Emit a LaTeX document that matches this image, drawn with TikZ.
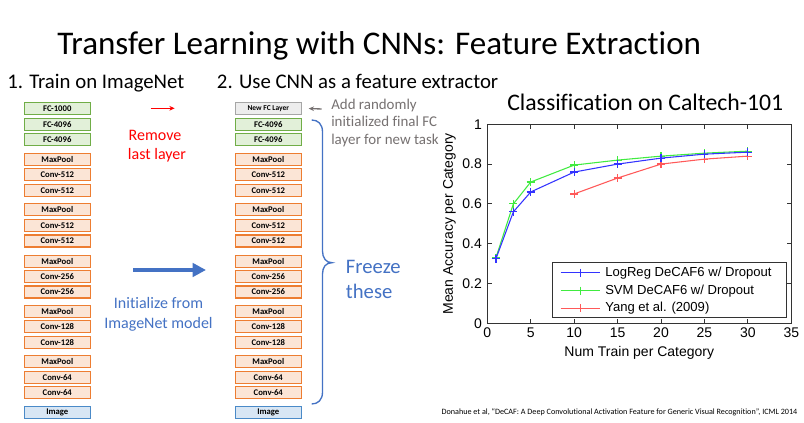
\documentclass[tikz,border=0pt]{standalone}
\usepackage{fontspec}
\setmainfont{Carlito}[Ligatures=NoCommon]
\newfontfamily\plotfont{Liberation Sans}
\usetikzlibrary{arrows.meta}
\definecolor{fcfill}{HTML}{E2F0D9}
\definecolor{fcdraw}{HTML}{70AD47}
\definecolor{convfill}{HTML}{FBE5D6}
\definecolor{convdraw}{HTML}{ED7D31}
\definecolor{imgfill}{HTML}{D8E6F4}
\definecolor{imgdraw}{HTML}{4A8AC8}
\definecolor{newfill}{HTML}{EDEDED}
\definecolor{newdraw}{HTML}{A6A6A6}
\definecolor{txtgray}{HTML}{767171}
\definecolor{ppblue}{HTML}{4472C4}
\definecolor{pred}{HTML}{FF0000}
\definecolor{cblue}{rgb}{0.2,0.2,1}
\definecolor{cgreen}{rgb}{0.25,0.92,0.25}
\definecolor{cred}{rgb}{1,0.35,0.35}
\tikzset{
  layer/.style={minimum width=66*0.75pt, minimum height=12*0.75pt, inner sep=0pt, line width=1.1pt,
    font=\bfseries\fontsize{6.5}{7}\selectfont},
  fcbox/.style={layer, draw=fcdraw, fill=fcfill},
  convbox/.style={layer, draw=convdraw, fill=convfill},
  imgbox/.style={layer, draw=imgdraw, fill=imgfill},
  newfcbox/.style={layer, draw=newdraw, fill=newfill, font=\bfseries\fontsize{5.6}{6}\selectfont},
  head/.style={font=\fontsize{15.6}{18}\selectfont, inner sep=0pt},
  ptick/.style={font=\plotfont\fontsize{10.5}{12}\selectfont, inner sep=0pt},
  plegend/.style={font=\plotfont\fontsize{9.8}{11}\selectfont, inner sep=0pt},
  pline/.style={line width=0.8pt},
  pmark/.style={mark=+, mark size=3pt, mark options={line width=0.9pt}},
}
\begin{document}
\begin{tikzpicture}[x=0.75pt,y=-0.75pt]
\useasboundingbox (0,0) rectangle (804,423);
\fill[white] (0,0) rectangle (804,423);

% title
\node[anchor=base, inner sep=0pt, font=\fontsize{24.8}{28}\selectfont] (title) at (379.2,55) {Transfer Learning with CNNs: Feature Extraction};

% headings
\node[head, anchor=base west] (h1) at (7,88.3) {1. Train on ImageNet};
\node[head, anchor=base west] (h2) at (216.7,88.3) {2. Use CNN as a feature extractor};

% left column
\foreach \y/\t/\s [count=\i] in {108.3/FC-1000/fcbox, 124.3/FC-4096/fcbox, 139.7/FC-4096/fcbox,
  159.3/MaxPool/convbox, 174.7/Conv-512/convbox, 190.3/Conv-512/convbox,
  209.7/MaxPool/convbox, 225.7/Conv-512/convbox, 241/Conv-512/convbox,
  261.3/MaxPool/convbox, 276.7/Conv-256/convbox, 292/Conv-256/convbox,
  311.3/MaxPool/convbox, 326.3/Conv-128/convbox, 342.3/Conv-128/convbox,
  361.7/MaxPool/convbox, 377.3/Conv-64/convbox, 392.7/Conv-64/convbox,
  412.7/Image/imgbox}
  {\node[\s] (L\i) at (57.3,\y) {\t};}

% right column
\foreach \y/\t/\s [count=\i] in {108.3/New FC Layer/newfcbox, 124.3/FC-4096/fcbox, 139.7/FC-4096/fcbox,
  159.3/MaxPool/convbox, 174.7/Conv-512/convbox, 190.3/Conv-512/convbox,
  209.7/MaxPool/convbox, 225.7/Conv-512/convbox, 241/Conv-512/convbox,
  261.3/MaxPool/convbox, 276.7/Conv-256/convbox, 292/Conv-256/convbox,
  311.3/MaxPool/convbox, 326.3/Conv-128/convbox, 342.3/Conv-128/convbox,
  361.7/MaxPool/convbox, 377.3/Conv-64/convbox, 392.7/Conv-64/convbox,
  412.7/Image/imgbox}
  {\node[\s] (R\i) at (268.3,\y) {\t};}

% red arrow and text
\coordinate (ra1) at (150.7,108.3);
\coordinate (ra2) at (174.7,108.3);
\draw[pred, line width=0.9pt, -{Stealth[length=4pt,width=3.5pt]}] (ra1) -- (ra2);
\node[anchor=base, inner sep=0pt, text=pred, font=\fontsize{12}{14}\selectfont] (rem1) at (155,140.7) {Remove};
\node[anchor=base, inner sep=0pt, text=pred, font=\fontsize{12}{14}\selectfont] (rem2) at (157,160) {last layer};

% blue arrow and text
\coordinate (ba1) at (133,270);
\coordinate (ba2) at (206,270);
\draw[ppblue, line width=3.2pt, -{Triangle[length=10pt,width=10pt]}] (ba1) -- (ba2);
\node[anchor=base, inner sep=0pt, text=ppblue, font=\fontsize{12}{14}\selectfont] (ini1) at (158.5,309) {Initialize from};
\node[anchor=base, inner sep=0pt, text=ppblue, font=\fontsize{12}{14}\selectfont] (ini2) at (158.5,329) {ImageNet model};

% gray arrow and text
\coordinate (ga1) at (321.7,109);
\draw[txtgray, line width=1pt, -{Stealth[length=4pt,width=3.5pt]}] (ga1) -- (R1.east) [shorten >=5pt];
\node[anchor=base west, inner sep=0pt, text=txtgray, font=\fontsize{11.2}{13}\selectfont] (add1) at (331,109.3) {Add randomly};
\node[anchor=base west, inner sep=0pt, text=txtgray, font=\fontsize{11.2}{13}\selectfont] (add2) at (331,126.7) {initialized final FC};
\node[anchor=base west, inner sep=0pt, text=txtgray, font=\fontsize{11.2}{13}\selectfont] (add3) at (331,144.3) {layer for new task};

% brace
\draw[ppblue, line width=1pt] (311.7,120) .. controls (318,120) and (322.5,124) .. (322.5,132) -- (322.5,251)
  .. controls (322.5,258) and (326,262.7) .. (332,262.7)
  .. controls (326,262.7) and (322.5,267) .. (322.5,274) -- (322.5,392)
  .. controls (322.5,400) and (318,404) .. (311.7,404);
\node[anchor=base west, inner sep=0pt, text=ppblue, font=\fontsize{15.5}{18}\selectfont] (fr1) at (345.7,273.3) {Freeze};
\node[anchor=base west, inner sep=0pt, text=ppblue, font=\fontsize{15.5}{18}\selectfont] (fr2) at (345.7,298.3) {these};

% chart title
\node[anchor=base west, inner sep=0pt, font=\fontsize{17.8}{20}\selectfont] (ctitle) at (507,110.7) {Classification on Caltech-101};

% plot
\begin{scope}[shift={(487.3,323.3)}, x=6.5145pt, y=149.25pt]
  \draw[line width=0.7pt, black!80] (0,0) rectangle (35,1);
  \foreach \v in {0,5,...,35} {
    \draw[line width=0.6pt, black!80] (\v,0) -- ++(0,3.5pt);
    \draw[line width=0.6pt, black!80] (\v,1) -- ++(0,-3.5pt);
    \node[ptick, anchor=north] at (\v,-0.022) {\v};
  }
  \foreach \v/\l in {0/0,0.2/0.2,0.4/0.4,0.6/0.6,0.8/0.8,1/1} {
    \draw[line width=0.6pt, black!80] (0,\v) -- ++(3.5pt,0);
    \draw[line width=0.6pt, black!80] (35,\v) -- ++(-3.5pt,0);
    \node[ptick, anchor=east] at (-0.6,\v) {\l};
  }
  \node[ptick, anchor=center] (xlab) at (17.5,-0.148) {Num Train per Category};
  \node[ptick, anchor=center, rotate=90] (ylab) at (-4.35,0.5) {Mean Accuracy per Category};

  \draw[pline, cred] plot[pmark] coordinates {(10,0.65) (15,0.73) (20,0.80) (25,0.825) (30,0.84)};
  \draw[pline, cgreen] plot[pmark] coordinates {(1,0.33) (3,0.60) (5,0.71) (10,0.795) (15,0.82) (20,0.84) (25,0.855) (30,0.865)};
  \draw[pline, cblue] plot[pmark] coordinates {(1,0.325) (3,0.56) (5,0.66) (10,0.76) (15,0.80) (20,0.83) (25,0.85) (30,0.86)};

  % legend
  \draw[line width=0.7pt, black!80, fill=white] (7.53,0.030) rectangle (34.39,0.3045);
  \foreach \yy/\cc in {0.254/cblue, 0.164/cgreen, 0.075/cred} {
    \draw[pline, \cc] (8.45,\yy) -- (12.97,\yy);
    \draw[pline, \cc] plot[pmark] coordinates {(10.7,\yy)};
  }
  \node[plegend, anchor=west] (lg1) at (13.55,0.254) {LogReg DeCAF6 w/ Dropout};
  \node[plegend, anchor=west] (lg2) at (13.55,0.164) {SVM DeCAF6 w/ Dropout};
  \node[plegend, anchor=west] (lg3) at (13.55,0.075) {Yang et al. (2009)};
\end{scope}

% citation
\node[inner sep=0pt, font=\fontsize{6.1}{7}\selectfont] (cite) at (619.5,412.7) {Donahue et al, “DeCAF: A Deep Convolutional Activation Feature for Generic Visual Recognition”, ICML 2014};
\end{tikzpicture}
\end{document}
